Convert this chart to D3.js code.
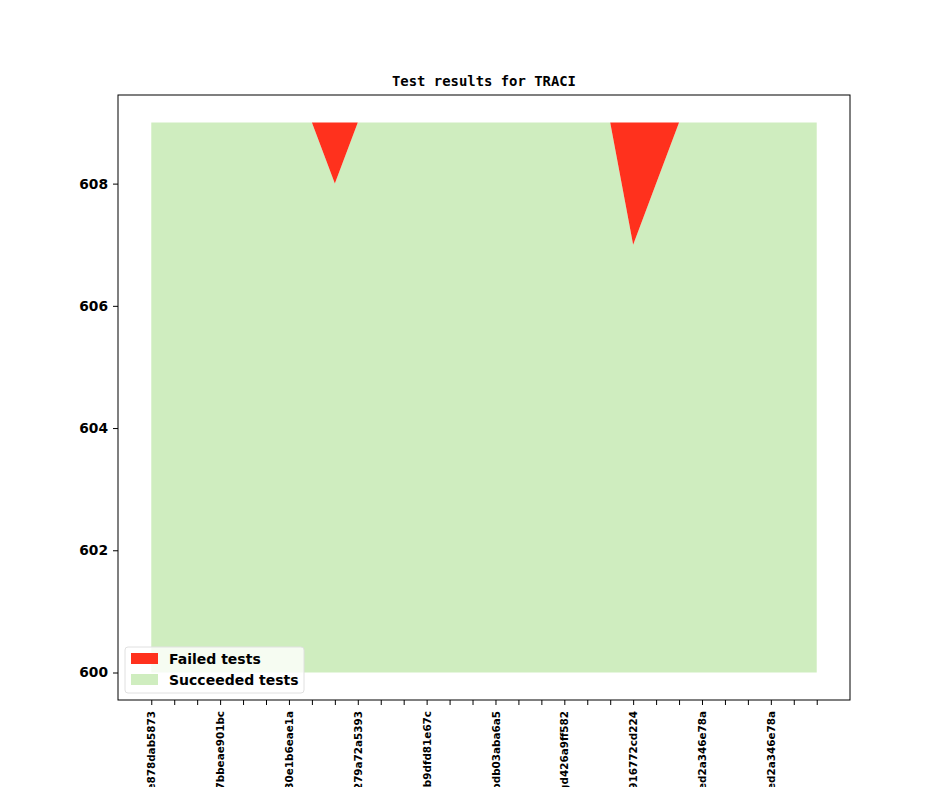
<!DOCTYPE html>
<html>
<head>
<meta charset="utf-8">
<script src="https://cdn.jsdelivr.net/npm/d3@7"></script>
<style>
  body { margin: 0; background: #fff; }
  svg { display: block; }
</style>
</head>
<body>
<svg id="chart" width="944" height="787"></svg>
<script>
// Data: one value per tested revision (30 revisions)
var succeeded = [609, 609, 609, 609, 609, 609, 609, 609, 608, 609,
                 609, 609, 609, 609, 609, 609, 609, 609, 609, 609,
                 609, 607, 608, 609, 609, 609, 609, 609, 609, 609];
var failed    = [0, 0, 0, 0, 0, 0, 0, 0, 1, 0,
                 0, 0, 0, 0, 0, 0, 0, 0, 0, 0,
                 0, 2, 1, 0, 0, 0, 0, 0, 0, 0];
// every third revision gets a label
var labelIndex = [0, 3, 6, 9, 12, 15, 18, 21, 24, 27];
var revisionLabels = ["v1_1_0+0120-ge878dab5873", "v1_1_0+0167-g7bbeae901bc",
                      "v1_1_0+0203-g30e1b6eae1a", "v1_1_0+0241-g279a72a5393",
                      "v1_1_0+0288-gb9dfd81e67c", "v1_1_0+0312-gbdb03aba6a5",
                      "v1_1_0+0355-gd426a9ff582", "v1_1_0+0390-g916772cd224",
                      "v1_1_0+0418-ged2a346e78a", "v1_1_0+0418-ged2a346e78a"];
var yTicks = [600, 602, 604, 606, 608];
var baseline = 600;

window.onload = function(){
   drawChart();
};

function drawChart() {
   var svg = d3.select("#chart");
   var left = 118, right = 850, top = 95, bottom = 700;

   var n = succeeded.length;
   var xPad = (n - 1) * 0.05;
   var x = d3.scaleLinear()
      .domain([-xPad, n - 1 + xPad])
      .range([left, right]);

   var yMax = d3.max(succeeded.map(function(s, i){ return s + failed[i]; }));
   var yPad = (yMax - baseline) * 0.05;
   var y = d3.scaleLinear()
      .domain([baseline - yPad, yMax + yPad])
      .range([bottom, top]);

   var idx = d3.range(n);

   // green area: from baseline up to succeeded
   var greenArea = d3.area()
      .x(function(i){ return x(i); })
      .y0(function(){ return y(baseline); })
      .y1(function(i){ return y(succeeded[i]); });

   // red area stacked on top
   var redArea = d3.area()
      .x(function(i){ return x(i); })
      .y0(function(i){ return y(succeeded[i]); })
      .y1(function(i){ return y(succeeded[i] + failed[i]); });

   svg.append("path")
      .attr("d", greenArea(idx))
      .attr("fill", "#cfedbf");

   svg.append("path")
      .attr("d", redArea(idx))
      .attr("fill", "#ff311d");

   // axes
   var yAxis = d3.axisLeft(y)
      .tickValues(yTicks)
      .tickFormat(d3.format("d"))
      .tickSize(5)
      .tickPadding(5);
   var gy = svg.append("g")
      .attr("transform", "translate(" + left + ",0)")
      .call(yAxis);
   gy.select(".domain").remove();
   gy.selectAll("text")
      .style("font-family", "DejaVu Sans")
      .style("font-weight", "bold")
      .style("font-size", "13.8px")
      .attr("fill", "#000");

   var xAxis = d3.axisBottom(x)
      .tickValues(idx)
      .tickFormat(function(d){
         var k = labelIndex.indexOf(d);
         return k >= 0 ? revisionLabels[k] : "";
      })
      .tickSize(5)
      .tickPadding(5);
   var gx = svg.append("g")
      .attr("transform", "translate(0," + bottom + ")")
      .call(xAxis);
   gx.select(".domain").remove();
   gx.selectAll("text")
      .style("font-family", "DejaVu Sans")
      .style("font-weight", "bold")
      .style("font-size", "10.4px")
      .attr("fill", "#000")
      .attr("text-anchor", "end")
      .attr("transform", "rotate(-90)")
      .attr("x", -11)
      .attr("y", 0)
      .attr("dy", "0.35em");

   // frame
   svg.append("rect")
      .attr("x", left).attr("y", top)
      .attr("width", right - left).attr("height", bottom - top)
      .attr("fill", "none")
      .attr("stroke", "#000")
      .attr("stroke-width", 1);

   // title
   svg.append("text")
      .attr("x", (left + right) / 2)
      .attr("y", 86)
      .attr("text-anchor", "middle")
      .style("font-family", "DejaVu Sans Mono")
      .style("font-weight", "bold")
      .style("font-size", "13.9px")
      .text("Test results for TRACI");

   // legend
   var legendItems = [{name: "Failed tests", color: "#ff311d"},
                      {name: "Succeeded tests", color: "#cfedbf"}];
   var lg = svg.append("g").attr("transform", "translate(125,647)");
   lg.append("rect")
      .attr("width", 179).attr("height", 46)
      .attr("rx", 3)
      .attr("fill", "#fff").attr("fill-opacity", 0.8)
      .attr("stroke", "#e0e0e0");
   var item = lg.selectAll(".item")
      .data(legendItems)
      .enter().append("g")
      .attr("transform", function(d, i){ return "translate(6," + (6 + i * 21) + ")"; });
   item.append("rect")
      .attr("width", 27).attr("height", 11)
      .attr("fill", function(d){ return d.color; });
   item.append("text")
      .attr("x", 38).attr("y", 10.5)
      .style("font-family", "DejaVu Sans")
      .style("font-weight", "bold")
      .style("font-size", "14px")
      .text(function(d){ return d.name; });
}
</script>
</body>
</html>
